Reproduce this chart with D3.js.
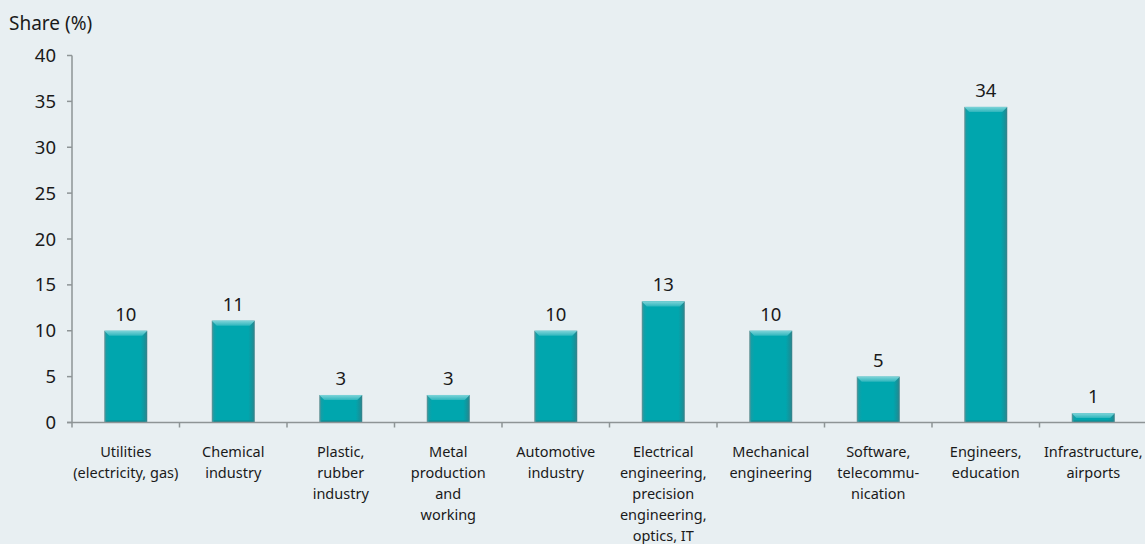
<!DOCTYPE html>
<html>
<head>
<meta charset="utf-8">
<script src="https://cdn.jsdelivr.net/npm/d3@7"></script>
<style>
  html, body { margin: 0; padding: 0; background: #e8eff2; }
  svg { display: block; font-family: "Noto Sans", "Open Sans", sans-serif; }
</style>
</head>
<body>
<svg id="chart" width="1145" height="544"></svg>
<script>
const categories = [
  ["Utilities", "(electricity, gas)"],
  ["Chemical", "industry"],
  ["Plastic,", "rubber", "industry"],
  ["Metal", "production", "and", "working"],
  ["Automotive", "industry"],
  ["Electrical", "engineering,", "precision", "engineering,", "optics, IT"],
  ["Mechanical", "engineering"],
  ["Software,", "telecommu-", "nication"],
  ["Engineers,", "education"],
  ["Infrastructure,", "airports"]
]
const shares = [10.0, 11.1, 3.0, 3.0, 10.0, 13.2, 10.0, 5.0, 34.4, 1.0]
const shareLabels = ["10", "11", "3", "3", "10", "13", "10", "5", "34", "1"]
const yTicks = [0, 5, 10, 15, 20, 25, 30, 35, 40]

function setupChart() {
    const svg = d3.select("#chart")
    const left = 72, top = 55.5, bottom = 422.5
    const bandWidth = 107.5

    const x = d3.scaleBand()
        .domain(d3.range(categories.length))
        .range([left, left + bandWidth * categories.length])
        .paddingInner(0.6)
        .paddingOuter(0.3)

    const y = d3.scaleLinear()
        .domain([0, 40])
        .range([bottom, top])

    // bevel gradients
    const defs = svg.append("defs")
    const side = defs.append("linearGradient").attr("id", "barSide")
    side.append("stop").attr("offset", "0%").attr("stop-color", "#6a9194")
    side.append("stop").attr("offset", "5%").attr("stop-color", "#139fa7")
    side.append("stop").attr("offset", "12%").attr("stop-color", "#00a6ae")
    side.append("stop").attr("offset", "85%").attr("stop-color", "#00a6ae")
    side.append("stop").attr("offset", "94%").attr("stop-color", "#14939b")
    side.append("stop").attr("offset", "100%").attr("stop-color", "#3b8088")

    const topG = defs.append("linearGradient").attr("id", "barTop")
        .attr("x1", 0).attr("y1", 0).attr("x2", 0).attr("y2", 1)
    topG.append("stop").attr("offset", "0%").attr("stop-color", "#7fd4d9")
    topG.append("stop").attr("offset", "100%").attr("stop-color", "#2fb6bd")

    // y axis
    svg.append("line")
        .attr("x1", left).attr("x2", left)
        .attr("y1", top).attr("y2", bottom)
        .attr("stroke", "#8e9496").attr("stroke-width", 1.5)

    svg.selectAll(".ytick")
        .data(yTicks)
        .enter()
        .append("line")
        .attr("x1", left - 5).attr("x2", left)
        .attr("y1", d => y(d)).attr("y2", d => y(d))
        .attr("stroke", "#8e9496").attr("stroke-width", 1.5)

    svg.selectAll(".ylabel")
        .data(yTicks)
        .enter()
        .append("text")
        .attr("x", 56)
        .attr("y", d => y(d) + 6.5)
        .attr("text-anchor", "end")
        .attr("font-size", 18.5)
        .attr("fill", "#1a1a1a")
        .text(d => d)

    svg.append("text")
        .attr("x", 9).attr("y", 30)
        .attr("font-size", 19)
        .attr("fill", "#1a1a1a")
        .text("Share (%)")

    // bars
    const bars = svg.selectAll(".bar")
        .data(shares)
        .enter()
        .append("g")
        .attr("class", "bar")

    bars.append("rect")
        .attr("x", (d, i) => x(i))
        .attr("y", d => y(d))
        .attr("width", x.bandwidth())
        .attr("height", d => bottom - y(d))
        .attr("fill", "url(#barSide)")

    bars.append("path")
        .attr("d", (d, i) => {
            const x0 = x(i), x1 = x(i) + x.bandwidth(), t = y(d)
            const h = Math.min(5, (bottom - t) / 2)
            return "M" + x0 + "," + t + "L" + x1 + "," + t +
                "L" + (x1 - h) + "," + (t + h) + "L" + (x0 + h) + "," + (t + h) + "Z"
        })
        .attr("fill", "url(#barTop)")

    bars.append("rect")
        .attr("x", (d, i) => x(i) + 2)
        .attr("y", bottom - 2)
        .attr("width", x.bandwidth() - 4)
        .attr("height", 2)
        .attr("fill", "#11878f")

    svg.selectAll(".value")
        .data(shares)
        .enter()
        .append("text")
        .attr("x", (d, i) => x(i) + x.bandwidth() / 2)
        .attr("y", d => y(d) - 10)
        .attr("text-anchor", "middle")
        .attr("font-size", 18.5)
        .attr("fill", "#1a1a1a")
        .text((d, i) => shareLabels[i])

    // x axis
    svg.append("line")
        .attr("x1", left - 5).attr("x2", 1145)
        .attr("y1", bottom).attr("y2", bottom)
        .attr("stroke", "#8e9496").attr("stroke-width", 1.5)

    svg.selectAll(".xtick")
        .data(d3.range(categories.length))
        .enter()
        .append("line")
        .attr("x1", i => left + i * bandWidth).attr("x2", i => left + i * bandWidth)
        .attr("y1", bottom).attr("y2", bottom + 5)
        .attr("stroke", "#8e9496").attr("stroke-width", 1.5)

    const labels = svg.selectAll(".xlabel")
        .data(categories)
        .enter()
        .append("text")
        .attr("text-anchor", "middle")
        .attr("font-size", 14.5)
        .attr("fill", "#1a1a1a")

    labels.selectAll("tspan")
        .data((d, i) => d.map((line, j) => ({ line: line, j: j, i: i })))
        .enter()
        .append("tspan")
        .attr("x", d => x(d.i) + x.bandwidth() / 2)
        .attr("y", d => 457 + d.j * 21)
        .text(d => d.line)
}

setupChart()
</script>
</body>
</html>
